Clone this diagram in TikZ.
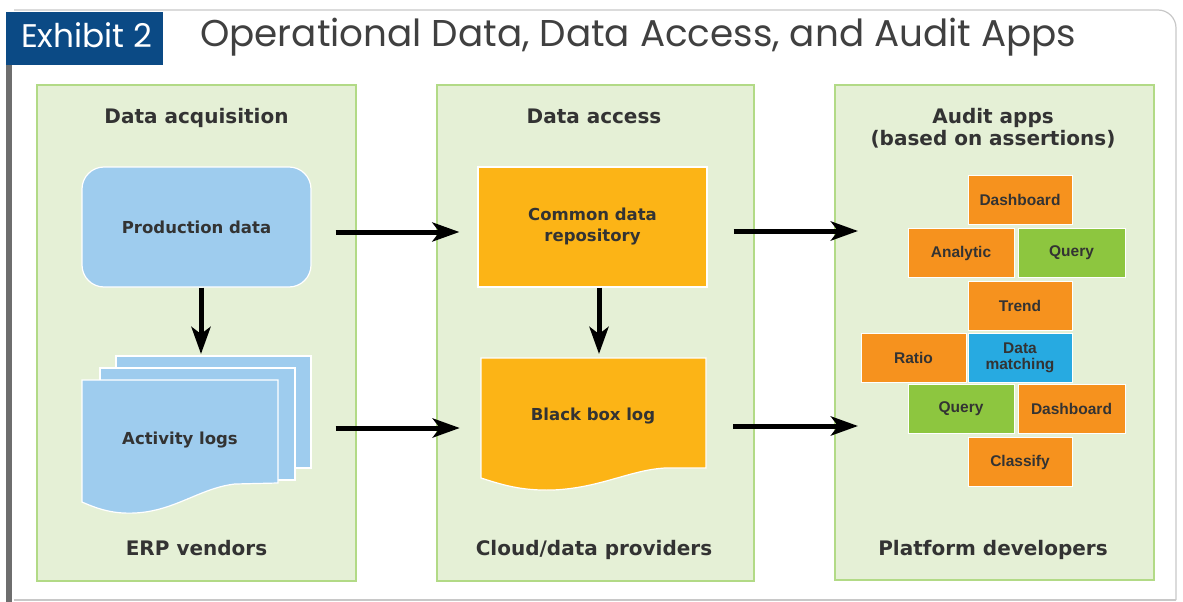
\documentclass[tikz,border=0pt]{standalone}
\usepackage{fontspec}
\usetikzlibrary{arrows.meta,calc}
\newfontfamily\labfont{DejaVu Sans}
\newfontfamily\appfont{Liberation Sans}
\newfontfamily\ttlfont{Poppins}
\definecolor{exblue}{RGB}{11,74,133}
\definecolor{framegray}{RGB}{200,200,200}
\definecolor{bargray}{RGB}{110,110,110}
\definecolor{panelfill}{RGB}{229,240,214}
\definecolor{paneldraw}{RGB}{178,218,134}
\definecolor{lblue}{RGB}{158,204,238}
\definecolor{yorange}{RGB}{252,180,22}
\definecolor{aorange}{RGB}{246,146,30}
\definecolor{agreen}{RGB}{141,198,63}
\definecolor{ablue}{RGB}{39,170,225}
\definecolor{txt}{RGB}{51,51,51}
\definecolor{ttltxt}{RGB}{64,64,64}
\begin{document}
\begin{tikzpicture}[x=1pt,y=-1pt,
  panel/.style={fill=panelfill,draw=paneldraw,line width=1.5pt,inner sep=0pt},
  ptitle/.style={font=\labfont\bfseries\fontsize{20}{22}\selectfont,text=txt,anchor=base,align=center},
  btext/.style={font=\labfont\bfseries\fontsize{16.5}{21}\selectfont,text=txt,align=center},
  pdbox/.style={btext,fill=lblue,draw=white,line width=1.2pt,rounded corners=22pt,minimum width=229pt,minimum height=120pt,inner sep=0pt},
  obox/.style={btext,fill=yorange,draw=white,line width=1.2pt,minimum width=229pt,minimum height=120pt,inner sep=0pt},
  pagebox/.style={fill=lblue,draw=white,line width=1.2pt,inner sep=0pt},
  app/.style={minimum width=104pt,minimum height=49pt,inner sep=0pt,align=center,draw=white,line width=1pt,
     font=\appfont\bfseries\fontsize{15.5}{16}\selectfont,text=txt},
  arr/.style={line width=5pt,-{Stealth[length=27pt,width=19pt,inset=7pt]}}
]
\useasboundingbox (0,0) rectangle (1183,602);
\fill[white] (0,0) rectangle (1183,602);
% outer frame
\draw[framegray,line width=1.2pt,rounded corners=18pt] (14,10) -- (1176,10) -- (1176,600);
\draw[framegray,line width=1.2pt] (14,600) -- (1176,600);
\fill[bargray] (6,65) rectangle (12,602);
% title
\node[fill=exblue,minimum width=157pt,minimum height=53pt,inner sep=0pt] (tb) at (84.5,38.5) {};
\node[anchor=base west,inner sep=0pt,text=white] (ex) at (21,47) {\resizebox{131pt}{!}{\ttlfont Exhibit 2}};
\node[anchor=base west,inner sep=0pt,text=ttltxt] (ttl) at (200,47) {\resizebox{876pt}{!}{\ttlfont Operational Data, Data Access, and Audit Apps}};
% panels
\node[panel,minimum width=319pt,minimum height=496pt] (p1) at (196.5,333) {};
\node[panel,minimum width=317pt,minimum height=496pt] (p2) at (595.5,333) {};
\node[panel,minimum width=319pt,minimum height=495pt] (p3) at (994.5,332.5) {};
\node[ptitle] (t1) at (196.5,123) {Data acquisition};
\node[ptitle] (t2) at (594,123) {Data access};
\node[ptitle] (t3) at (993,123) {Audit apps};
\node[ptitle] (t3b) at (993,145) {(based on assertions)};
\node[ptitle] (b1) at (196.5,555) {ERP vendors};
\node[ptitle] (b2) at (594,555) {Cloud/data providers};
\node[ptitle] (b3) at (993,555) {Platform developers};
% data acquisition
\node[pdbox] (pd) at (196.5,227) {Production data};
\node[pagebox,minimum width=195pt,minimum height=112pt] (alb) at (213.5,412) {};
\node[pagebox,minimum width=195pt,minimum height=112pt] (alm) at (197.5,424) {};
\filldraw[fill=lblue,draw=white,line width=1.2pt] (82,380) -- (278,380) -- (278,483) -- (235,484)
  .. controls (200,488) and (175,511) .. (135,513)
  .. controls (115,514) and (100,510) .. (82,502) -- cycle;
\node[btext] (al) at (180,440) {Activity logs};
\coordinate (altop) at (201,354);
\draw[arr] (pd.south -| altop) -- (altop);
% data access
\node[obox] (cdr) at (592.5,227) {Common data\\repository};
\node[inner sep=0pt,minimum width=225pt,minimum height=120pt] (bbl) at (593.5,418) {};
\filldraw[fill=yorange,draw=white,line width=1.2pt] (481,358) -- (706,358) -- (706,468) -- (665,468)
  .. controls (630,470) and (600,488) .. (553,490)
  .. controls (520,491) and (500,484) .. (481,478) -- cycle;
\node[btext] (bbt) at (593,416) {Black box log};
\coordinate (bbtop) at (599,354);
\draw[arr] (cdr.south -| bbtop) -- (bbtop);
% horizontal arrows
\draw[arr] ($(pd.east)+(24,5)$) -- ($(cdr.west)+(-18,5)$);
\draw[arr] ($(alb.east)+(24,16)$) -- ($(bbl.west)+(-21,10)$);
\coordinate (r1) at (858,231);
\coordinate (r2) at (858,426);
\draw[arr] ($(cdr.east)+(26,4)$) -- (r1);
\draw[arr] ($(bbl.east)+(27,8)$) -- (r2);
% audit apps
\node[app,fill=aorange] (d1) at (1020,200) {Dashboard};
\node[app,fill=aorange,minimum width=106pt] (an) at (961,253) {Analytic};
\node[app,fill=agreen,minimum width=107pt] (q1) at (1071.5,253) {Query};
\node[app,fill=aorange] (tr) at (1020,305.5) {Trend};
\node[app,fill=aorange,minimum width=105pt] (ra) at (913.5,357.5) {Ratio};
\node[app,fill=ablue] (dm) at (1020,357.5) {Data\\matching};
\node[app,fill=agreen,minimum width=106pt] (q2) at (961,409) {Query};
\node[app,fill=aorange,minimum width=107pt] (d2) at (1071.5,409) {Dashboard};
\node[app,fill=aorange] (cl) at (1020,462) {Classify};
\end{tikzpicture}
\end{document}
